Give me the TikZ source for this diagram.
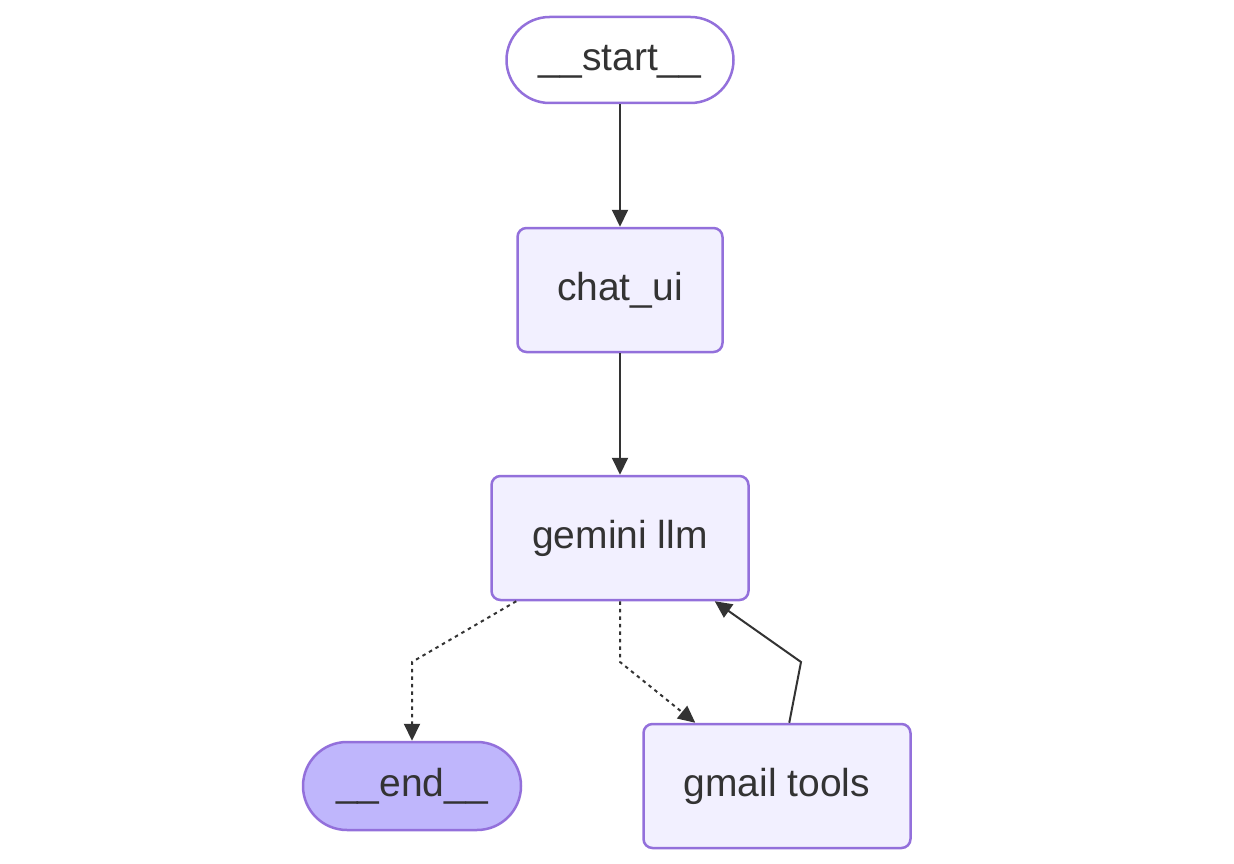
\documentclass[tikz,border=0pt]{standalone}
\usepackage{fontspec}
\setmainfont{Liberation Sans}
\usetikzlibrary{arrows.meta}
\definecolor{nodestroke}{HTML}{9370DB}
\definecolor{nodefill}{HTML}{F2F0FF}
\definecolor{endfill}{HTML}{BFB6FC}
\definecolor{txt}{HTML}{333333}
\definecolor{edgec}{HTML}{333333}
\tikzset{
  base/.style={draw=nodestroke, line width=2.5pt, text=txt, font=\fontsize{39}{44}\selectfont, inner sep=0pt, text height=28pt, text depth=7pt, anchor=center},
  boxnode/.style={base, fill=nodefill, rectangle, rounded corners=9pt},
  startnode/.style={base, fill=white, rectangle, rounded corners=43pt, minimum width=227pt, minimum height=86pt},
  endnode/.style={base, fill=endfill, rectangle, rounded corners=44pt, minimum width=218pt, minimum height=88pt},
  edge/.style={draw=edgec, line width=2pt, -{Triangle[length=17pt,width=16pt]}},
  dashedge/.style={edge, dash pattern=on 3.5pt off 4pt}
}
\begin{document}
\begin{tikzpicture}[x=1pt,y=-1pt]
\useasboundingbox (0,0) rectangle (1234,864);
\node[startnode] (start) at (620,60) {\_\_start\_\_};
\node[boxnode, minimum width=205pt, minimum height=124pt] (chat) at (620,290) {chat\_ui};
\node[boxnode, minimum width=257pt, minimum height=124pt] (gemini) at (620,538) {gemini llm};
\node[endnode] (end) at (412,786) {\_\_end\_\_};
\node[boxnode, minimum width=267pt, minimum height=124pt] (gmail) at (777,786) {gmail tools};
\coordinate (b1) at (412,662);
\coordinate (b2) at (620,662);
\coordinate (b3) at (801,662);
\draw[edge] (start.south) -- (chat.north);
\draw[edge] (chat.south) -- (gemini.north);
\draw[dashedge] ([xshift=26pt]gemini.south west) -- (b1) -- (end.north);
\draw[dashedge] (gemini.south) -- (b2) -- ([xshift=53pt]gmail.north west);
\draw[edge] ([xshift=147pt]gmail.north west) -- (b3) -- ([xshift=-35pt]gemini.south east);
\end{tikzpicture}
\end{document}
